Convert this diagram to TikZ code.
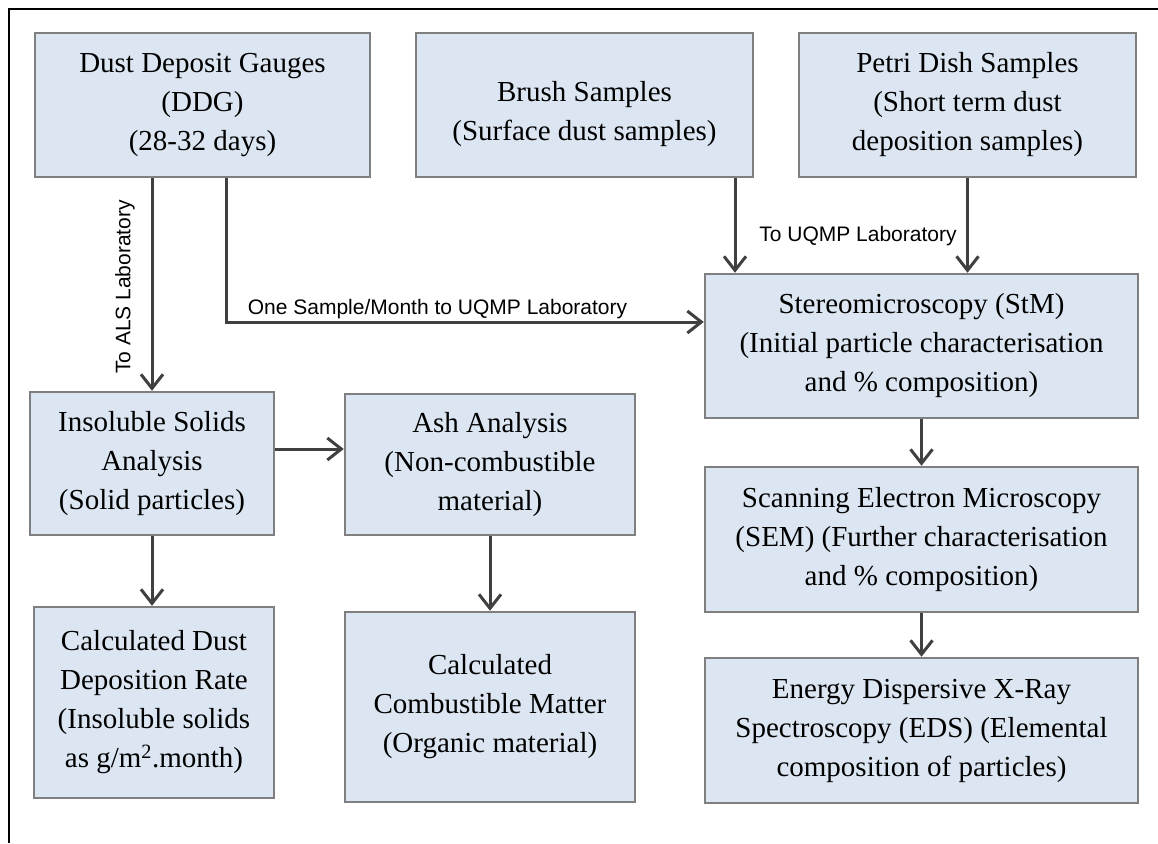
\documentclass[tikz,border=0pt]{standalone}
\usepackage{fontspec}
\setmainfont{Liberation Serif}
\newfontfamily\arialfont{Liberation Sans}
\usetikzlibrary{arrows.meta,calc}
\definecolor{boxfill}{HTML}{DCE6F2}
\definecolor{boxline}{HTML}{7F7F7F}
\definecolor{arrcol}{HTML}{404040}
\tikzset{
  box/.style={draw=boxline, line width=2.5pt, fill=boxfill, inner sep=0pt, align=center,
    font=\fontsize{29}{39}\selectfont},
  boxtext/.style={inner sep=0pt, align=center, font=\fontsize{29}{39}\selectfont},
  arr/.style={draw=arrcol, line width=3pt, -{Straight Barb[length=14pt,width=22pt,line width=3pt]}},
  lab/.style={font=\arialfont\fontsize{21}{25}\selectfont, inner sep=0pt},
}
\begin{document}
\begin{tikzpicture}[x=1pt,y=-1pt]
\useasboundingbox (0,0) rectangle (1158,843);
\draw[line width=2pt] (9,843) -- (9,9) -- (1158,9);
% boxes
\node[box, minimum width=335pt, minimum height=144pt] (ddg) at (202.5,105) {Dust Deposit Gauges\\(DDG)\\(28-32 days)};
\node[box, minimum width=337pt, minimum height=144pt] (brush) at (584.5,105) {};
\node[boxtext] (brushtxt) at ([yshift=-9pt]brush.center) {Brush Samples\\(Surface dust samples)};
\node[box, minimum width=337pt, minimum height=144pt] (petri) at (967.5,105) {Petri Dish Samples\\(Short term dust\\deposition samples)};
\node[box, minimum width=433pt, minimum height=144pt] (stereo) at (921.5,346) {Stereomicroscopy (StM)\\(Initial particle characterisation\\and \% composition)};
\node[box, minimum width=433pt, minimum height=145pt] (sem) at (921.5,539.5) {Scanning Electron Microscopy\\(SEM) (Further characterisation\\and \% composition)};
\node[box, minimum width=433pt, minimum height=145pt] (eds) at (921.5,730.5) {Energy Dispersive X-Ray\\Spectroscopy (EDS) (Elemental\\composition of particles)};
\node[box, minimum width=244pt, minimum height=143pt] (ins) at (152,463.5) {Insoluble Solids\\Analysis\\(Solid particles)};
\node[box, minimum width=290pt, minimum height=141pt] (ash) at (490,464.5) {Ash Analysis\\(Non-combustible\\material)};
\node[box, minimum width=240pt, minimum height=191pt] (calc) at (154,702.5) {Calculated Dust\\Deposition Rate\\(Insoluble solids\\as g/m\textsuperscript{2}.month)};
\node[box, minimum width=290pt, minimum height=190pt] (comb) at (490,707) {Calculated\\Combustible Matter\\(Organic material)};
% connectors
\draw[arr] (ins.north |- ddg.south) -- (ins.north);
\draw[arr] ([xshift=23.5pt]ddg.south) |- ([yshift=24pt]stereo.west);
\draw[arr] ([xshift=150.5pt]brush.south) -- ([xshift=150.5pt]brush.south |- stereo.north);
\draw[arr] (petri.south) -- (petri.south |- stereo.north);
\draw[arr] (stereo.south) -- (sem.north);
\draw[arr] (sem.south) -- (eds.north);
\draw[arr] ([yshift=14.5pt]ins.east) -- ([yshift=14.5pt]ins.east -| ash.west);
\draw[arr] (ins.south) -- (ins.south |- calc.north);
\draw[arr] (ash.south) -- (comb.north);
% labels
\node[lab, rotate=90] (lals) at (125,287) {To ALS Laboratory};
\node[lab] (luqmp) at (858,236) {To UQMP Laboratory};
\node[lab] (lone) at (437.5,309) {One Sample/Month to UQMP Laboratory};
\end{tikzpicture}
\end{document}
